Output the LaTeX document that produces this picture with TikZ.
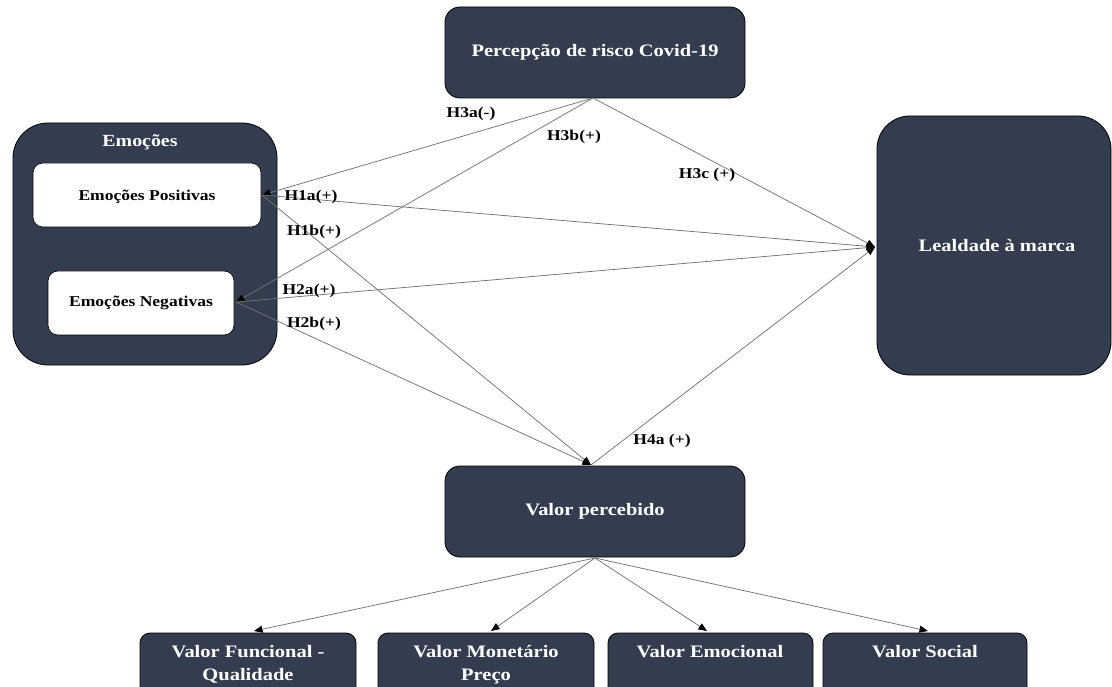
\documentclass[tikz,border=0pt]{standalone}
\usepackage{fontspec}
\setmainfont{Liberation Serif}[FakeStretch=1.17]
\usetikzlibrary{arrows.meta}
\definecolor{boxfill}{RGB}{51,61,79}
\definecolor{linegray}{RGB}{115,115,115}
\tikzset{
  darkbox/.style={draw=black, line width=0.8pt, fill=boxfill, rounded corners=#1, inner sep=0pt, outer sep=0pt},
  whitebox/.style={draw=black, line width=0.6pt, fill=white, rounded corners=10pt, inner sep=0pt, outer sep=0pt},
  bigtxt/.style={text=white, font=\fontsize{17.5}{23.5}\selectfont\bfseries, align=center, inner sep=0pt},
  smalltxt/.style={text=black, font=\fontsize{15}{18}\selectfont\bfseries, align=center, inner sep=0pt},
  hyp/.style={text=black, font=\fontsize{15}{18}\selectfont\bfseries, inner sep=0pt},
  conn/.style={draw=linegray, line width=0.75pt, -{Triangle[length=8.5pt, width=7pt, color=black]}},
}
\begin{document}
\begin{tikzpicture}[x=1pt, y=-1pt]
\useasboundingbox (0,0) rectangle (1112,687);
\clip (0,0) rectangle (1112,687);
% boxes
\node[darkbox=15pt, minimum width=300pt, minimum height=91pt] (pc) at (595,52.5) {};
\node[bigtxt] (pct) at (595,52) {Percepção de risco Covid-19};
\node[darkbox=35pt, minimum width=264pt, minimum height=242pt] (em) at (145,244) {};
\node[bigtxt, font=\fontsize{17}{20}\selectfont\bfseries] (emt) at (140,142) {Emoções};
\node[whitebox, minimum width=228pt, minimum height=64pt] (ep) at (147,195) {};
\node[smalltxt] (ept) at (147,197) {Emoções Positivas};
\node[whitebox, minimum width=186pt, minimum height=64pt] (en) at (141,303) {};
\node[smalltxt] (ent) at (141,303) {Emoções Negativas};
\node[darkbox=33pt, minimum width=234pt, minimum height=259pt] (ll) at (994,245.5) {};
\node[bigtxt] (llt) at (997,246) {Lealdade à marca};
\node[darkbox=15pt, minimum width=300pt, minimum height=91pt] (vp) at (595,511.5) {};
\node[bigtxt] (vpt) at (595,511) {Valor percebido};
\node[darkbox=10pt, minimum width=216pt, minimum height=80pt, anchor=north west] (vf) at (140,633) {};
\node[darkbox=10pt, minimum width=216pt, minimum height=80pt, anchor=north west] (vm) at (378,633) {};
\node[darkbox=10pt, minimum width=205pt, minimum height=80pt, anchor=north west] (ve) at (608,633) {};
\node[darkbox=10pt, minimum width=204pt, minimum height=80pt, anchor=north west] (vs) at (823,633) {};
\node[bigtxt, anchor=north] (vft) at (248,645) {Valor Funcional -\\Qualidade};
\node[bigtxt, anchor=north] (vmt) at (486,645) {Valor Monetário\\Preço};
\node[bigtxt, anchor=north] (vet) at (710,645) {Valor Emocional};
\node[bigtxt, anchor=north] (vst) at (925,645) {Valor Social};
% connection points
\coordinate (pcB) at (593,98);
\coordinate (epR) at (262,195);
\coordinate (enR) at (236,302);
\coordinate (llL) at (875,247);
\coordinate (vpT) at (591,465);
\coordinate (vpB) at (595,558);
\coordinate (vfT) at (254,631);
\coordinate (vmT) at (491,631);
\coordinate (veT) at (707,631);
\coordinate (vsT) at (928,631);
% connectors
\draw[conn] (pcB) -- (epR);
\draw[conn] (pcB) -- (enR);
\draw[conn] (pcB) -- (llL);
\draw[conn] (epR) -- (llL);
\draw[conn] (epR) -- (vpT);
\draw[conn] (enR) -- (llL);
\draw[conn] (enR) -- (vpT);
\draw[conn] (vpT) -- (llL);
\draw[conn] (vpB) -- (vfT);
\draw[conn] (vpB) -- (vmT);
\draw[conn] (vpB) -- (veT);
\draw[conn] (vpB) -- (vsT);
% hypothesis labels
\node[hyp] (h3a) at (471,114) {H3a(-)};
\node[hyp] (h3b) at (574,137) {H3b(+)};
\node[hyp] (h3c) at (707,175) {H3c (+)};
\node[hyp] (h1a) at (311,197) {H1a(+)};
\node[hyp] (h1b) at (314,232) {H1b(+)};
\node[hyp] (h2a) at (309,291) {H2a(+)};
\node[hyp] (h2b) at (314,324) {H2b(+)};
\node[hyp] (h4a) at (662,441) {H4a (+)};
\end{tikzpicture}
\end{document}
